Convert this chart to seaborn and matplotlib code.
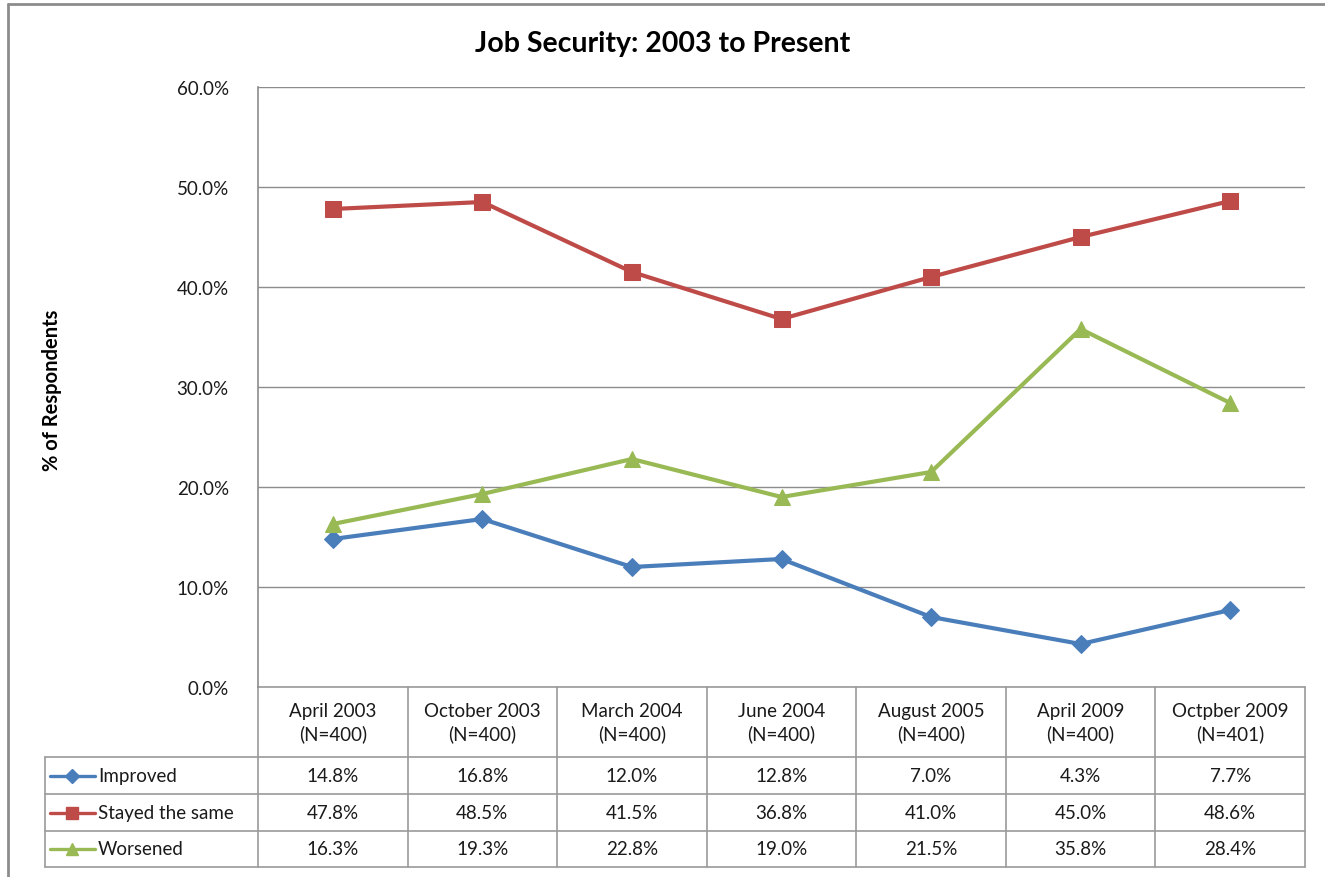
import pandas as pd
import numpy as np
import matplotlib
matplotlib.use("Agg")
import matplotlib.pyplot as plt
import matplotlib.transforms as mtransforms
from matplotlib.lines import Line2D
import seaborn as sns

# data
periods = ['April 2003\n(N=400)', 'October 2003\n(N=400)', 'March 2004\n(N=400)',
           'June 2004\n(N=400)', 'August 2005\n(N=400)', 'April 2009\n(N=400)',
           'Octpber 2009\n(N=401)']
improved = [14.8, 16.8, 12.0, 12.8, 7.0, 4.3, 7.7]
stayed = [47.8, 48.5, 41.5, 36.8, 41.0, 45.0, 48.6]
worsened = [16.3, 19.3, 22.8, 19.0, 21.5, 35.8, 28.4]
series_names = ['Improved', 'Stayed the same', 'Worsened']
yticks = [0, 10, 20, 30, 40, 50, 60]

colors = ['#4A7EBB', '#BE4B48', '#98B954']
markers = ['D', 's', '^']
msizes = [9, 11, 11]

sns.set_style("white")
plt.rcParams['font.family'] = ['Lato', 'DejaVu Sans']
fs = 13.5
txt_c = '#1A1A1A'

df = pd.DataFrame({'pos': list(range(len(periods))) * 3,
                   'value': improved + stayed + worsened,
                   'Series': np.repeat(series_names, len(periods))})

fig = plt.figure(figsize=(13.25, 8.78), dpi=100)
ax = fig.add_axes([258/1325, 1 - 688/878, 1047/1325, 600/878])

for name, c, m, ms in zip(series_names, colors, markers, msizes):
    sub = df[df['Series'] == name]
    sns.lineplot(data=sub, x='pos', y='value', ax=ax, color=c, marker=m,
                 markersize=ms, markeredgecolor=c, linewidth=3, zorder=3)

ax.set_xlim(-0.5, len(periods) - 0.5)
ax.set_ylim(0, 60)
ax.set_yticks(yticks)
ax.set_yticklabels([f'{v:.1f}%' for v in yticks], fontsize=fs, color=txt_c)
ax.set_xticks([])
ax.set_xlabel('')
ax.set_ylabel('')
ax.tick_params(axis='y', length=0, pad=21)
ax.yaxis.grid(True, color='#8C8C8C', linewidth=1)
for s in ['top', 'right', 'bottom']:
    ax.spines[s].set_visible(False)
ax.spines['left'].set_color('#8C8C8C')
ax.spines['left'].set_linewidth(1.2)

fig.text(0.5, 1 - 44/878, 'Job Security: 2003 to Present', ha='center', va='center',
         fontsize=20.5, fontweight='bold', color='black')
fig.text(52/1325, 1 - 390/878, '% of Respondents', ha='center', va='center',
         rotation=90, fontsize=14.5, fontweight='bold', color='black')

# data table below the plot
trans = mtransforms.blended_transform_factory(ax.transData, ax.transAxes)
grid_c = '#9A9A9A'
y_head = -70/600
row_edges = [y_head, -107/600, -144/600, -180/600]
n = len(periods)
for i in range(n + 1):
    x = i - 0.5
    ax.add_line(Line2D([x, x], [0, row_edges[-1]], transform=trans, color=grid_c,
                       linewidth=1.2, clip_on=False))
ax.add_line(Line2D([-0.5, n - 0.5], [0, 0], transform=trans, color=grid_c,
                   linewidth=1.2, clip_on=False))
left_frac = (45 - 258) / 1047
for y in row_edges:
    ax.add_line(Line2D([left_frac, 1], [y, y], transform=ax.transAxes, color=grid_c,
                       linewidth=1.2, clip_on=False))
ax.add_line(Line2D([left_frac, left_frac], [row_edges[0], row_edges[-1]],
                   transform=ax.transAxes, color=grid_c, linewidth=1.2, clip_on=False))

for i, p in enumerate(periods):
    ax.text(i, y_head / 2, p, transform=trans, ha='center', va='center',
            fontsize=fs, linespacing=1.35, color=txt_c)

values = [improved, stayed, worsened]
key_x0 = (50 - 258) / 1047
key_x1 = (95 - 258) / 1047
for r, (name, vals, c, m) in enumerate(zip(series_names, values, colors, markers)):
    yc = (row_edges[r] + row_edges[r + 1]) / 2
    for i, v in enumerate(vals):
        ax.text(i, yc, f'{v:.1f}%', transform=trans, ha='center', va='center',
                fontsize=fs, color=txt_c)
    ax.add_line(Line2D([key_x0, key_x1], [yc, yc], transform=ax.transAxes, color=c,
                       linewidth=2.4, clip_on=False))
    ax.add_line(Line2D([(key_x0 + key_x1) / 2], [yc], transform=ax.transAxes, color=c,
                       marker=m, markersize=9 if m != 'D' else 7, clip_on=False))
    ax.text(key_x1 + 0.003, yc, name, transform=ax.transAxes, ha='left', va='center',
            fontsize=fs, color=txt_c)

# outer chart border (top and left edges visible)
fig.add_artist(Line2D([8/1325, 1], [1 - 5/878, 1 - 5/878], transform=fig.transFigure,
                      color='#8C8C8C', linewidth=2))
fig.add_artist(Line2D([8/1325, 8/1325], [0, 1 - 5/878], transform=fig.transFigure,
                      color='#8C8C8C', linewidth=2))

fig.savefig('out.png', dpi=100)
